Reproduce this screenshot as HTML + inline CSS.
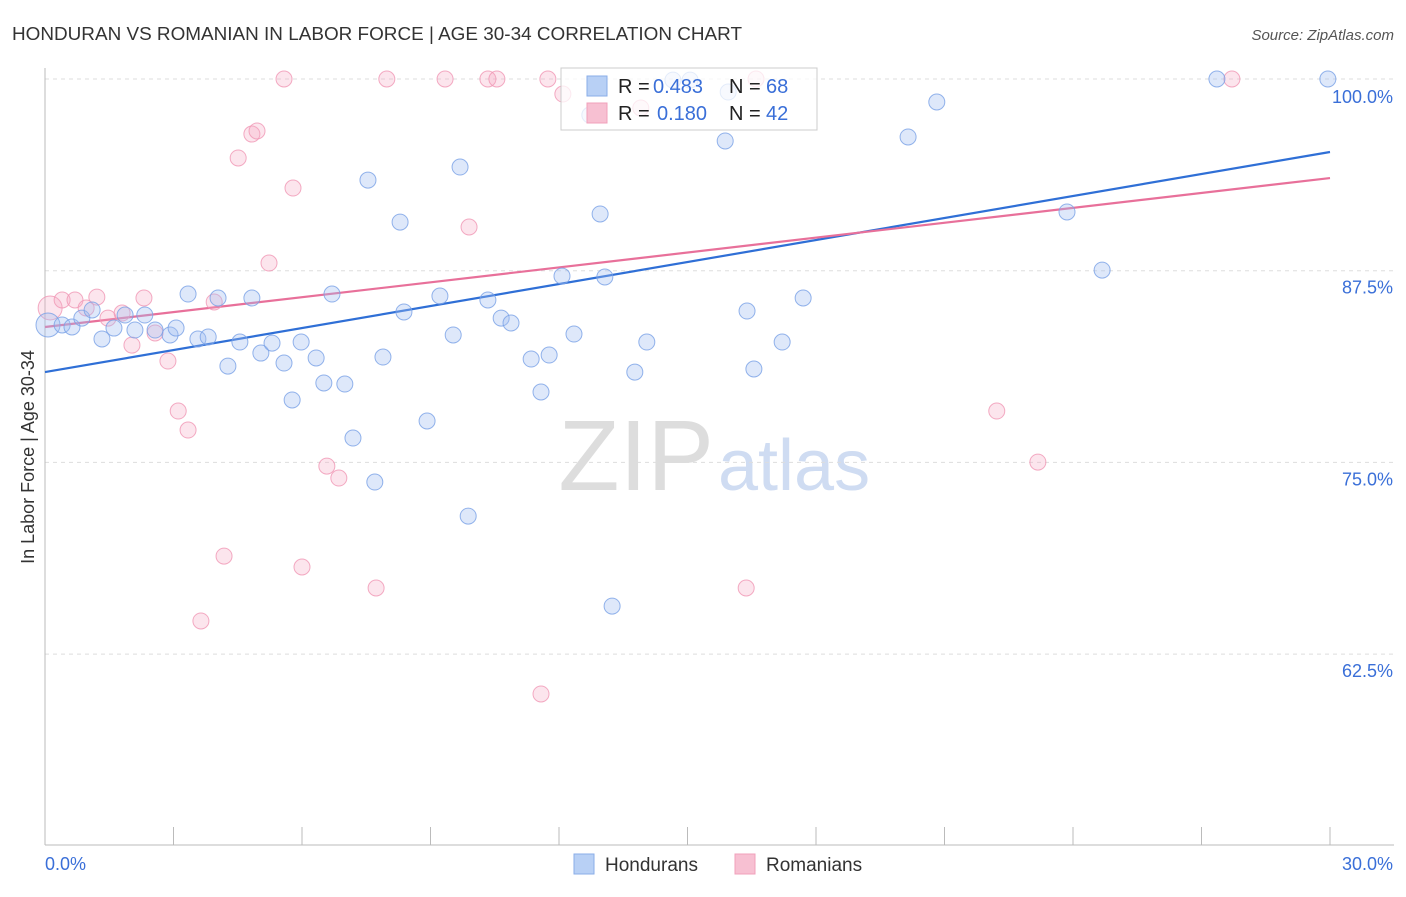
<!DOCTYPE html>
<html><head><meta charset="utf-8"><style>
body{margin:0;background:#fff;font-family:"Liberation Sans",sans-serif;}
svg text{font-family:"Liberation Sans",sans-serif;}
</style></head><body>
<svg id="chart" width="1406" height="892">
<text x="12" y="40" font-size="18" fill="#333" textLength="730" lengthAdjust="spacingAndGlyphs">HONDURAN VS ROMANIAN IN LABOR FORCE | AGE 30-34 CORRELATION CHART</text>
<text x="1394" y="40" font-size="15" fill="#555" text-anchor="end" font-style="italic">Source: ZipAtlas.com</text>
<text x="714" y="490" font-size="100" fill="#ddd" text-anchor="end" font-family="Liberation Serif">ZIP</text>
<text x="718" y="490" font-size="72" fill="#cfdcf2">atlas</text>
<text transform="translate(34,457) rotate(-90)" font-size="18" fill="#333" text-anchor="middle">In Labor Force | Age 30-34</text>
<g id="grid"></g><g id="axes"></g>
<g id="lines"></g><g id="pts"></g>
<g>
<rect x="561" y="68" width="256" height="62" fill="rgba(255,255,255,0.75)" stroke="#ccc"/>
<rect x="587" y="76" width="20" height="20" fill="#b8d0f5" stroke="#8aaee8"/>
<rect x="587" y="103" width="20" height="20" fill="#f7c0d2" stroke="#f0a0bb"/>
<text x="618" y="93" font-size="20" fill="#222">R = </text><text x="653" y="93" font-size="20" fill="#3a6fd8">0.483</text>
<text x="729" y="93" font-size="20" fill="#222">N = </text><text x="766" y="93" font-size="20" fill="#3a6fd8">68</text>
<text x="618" y="120" font-size="20" fill="#222">R = </text><text x="657" y="120" font-size="20" fill="#3a6fd8">0.180</text>
<text x="729" y="120" font-size="20" fill="#222">N = </text><text x="766" y="120" font-size="20" fill="#3a6fd8">42</text>
</g>
<g>
<rect x="574" y="854" width="20" height="20" fill="#b8d0f5" stroke="#8aaee8"/>
<text x="605" y="871" font-size="19" fill="#333">Hondurans</text>
<rect x="735" y="854" width="20" height="20" fill="#f7c0d2" stroke="#f0a0bb"/>
<text x="766" y="871" font-size="19" fill="#333">Romanians</text>
</g>
</svg>
<script>
const xTicks=[0,3,6,9,12,15,18,21,24,27,30];
const yTicks=[100,87.5,75,62.5];
const yTickLabels=["100.0%","87.5%","75.0%","62.5%"];
const blueX=[0.07,0.40,0.63,0.86,1.10,1.33,1.61,1.87,2.10,2.33,2.57,2.92,3.06,3.34,3.57,3.81,4.04,4.27,4.55,4.83,5.04,5.30,5.58,5.77,5.98,6.33,6.51,6.70,7.00,7.19,7.54,7.70,7.89,8.29,8.38,8.92,9.22,9.53,9.69,9.88,10.34,10.65,10.88,11.35,11.58,11.77,12.07,12.35,12.72,12.96,13.07,13.24,13.77,14.05,14.66,15.06,15.88,15.95,16.39,16.55,17.21,17.70,20.15,20.82,23.86,24.68,27.36,29.95];
const blueY=[83.96,83.96,83.83,84.41,84.94,83.05,83.76,84.61,83.63,84.61,83.63,83.31,83.76,85.98,83.05,83.18,85.72,81.28,82.85,85.72,82.13,82.78,81.48,79.07,82.85,81.81,80.18,85.98,80.11,76.59,93.41,73.72,81.87,90.67,84.81,77.70,85.85,83.31,94.26,71.50,85.59,84.41,84.09,81.74,79.59,82.00,87.15,83.37,97.65,91.20,87.09,65.63,80.89,82.85,99.93,99.93,95.96,99.15,84.87,81.09,82.85,85.72,96.22,98.50,91.33,87.54,100,100];
const pinkX=[0.12,0.40,0.70,0.96,1.21,1.47,1.80,2.03,2.31,2.57,2.87,3.11,3.34,3.64,3.95,4.18,4.51,4.83,4.95,5.23,5.58,5.79,6.00,6.58,6.86,7.73,7.98,9.34,9.90,10.34,10.55,11.58,11.74,12.09,13.91,16.37,16.60,22.22,23.18,27.71];
const pinkY=[85.07,85.59,85.59,85.07,85.78,84.41,84.74,82.65,85.72,83.44,81.61,78.35,77.11,64.66,85.46,68.89,94.85,96.41,96.61,88.00,100,92.89,68.18,74.76,73.98,66.81,100,100,90.35,100,100,59.90,100,99.02,98.11,66.81,100,78.35,75.02,100];
const blueTrend=[80.89,95.24];
const pinkTrend=[83.83,93.54];
const NS="http://www.w3.org/2000/svg";
const sx=v=>45+v/30*1285;
const sy=v=>79+(100-v)/12.5*191.7;
function mk(t,a,p){const e=document.createElementNS(NS,t);for(const k in a)e.setAttribute(k,a[k]);p.appendChild(e);return e;}
const grid=document.getElementById('grid'),axes=document.getElementById('axes'),lines=document.getElementById('lines'),pts=document.getElementById('pts');
yTicks.forEach((v,i)=>{
const l=mk('line',{x1:45,x2:1394,y1:sy(v),y2:sy(v),stroke:'#ddd','stroke-dasharray':'4,4'},grid);


const t=mk('text',{x:1393,y:sy(v)+(i==0?24:23),'font-size':18,fill:'#3a6fd8','text-anchor':'end'},axes);
t.textContent=yTickLabels[i];


});
mk('line',{x1:45,x2:45,y1:68,y2:845,stroke:'#bbb'},axes);
mk('line',{x1:45,x2:1394,y1:845,y2:845,stroke:'#bbb'},axes);
xTicks.forEach(v=>{const l=mk('line',{x1:sx(v),x2:sx(v),y1:827,y2:845,stroke:'#bbb'},axes);

});
let t0=mk('text',{x:45,y:870,'font-size':18,fill:'#3a6fd8'},axes);t0.textContent='0.0%';


let t1=mk('text',{x:1393,y:870,'font-size':18,fill:'#3a6fd8','text-anchor':'end'},axes);t1.textContent='30.0%';


function pointsOf(X,Y,fill,stroke,name){X.forEach((x,i)=>{
const c=mk('circle',{cx:sx(x),cy:sy(Y[i]),r:(i==0?12:8),fill:fill,stroke:stroke,'stroke-width':1},pts);

});}
pointsOf(pinkX,pinkY,'rgba(245,170,195,0.3)','rgba(240,150,180,0.8)','romanian-point');
pointsOf(blueX,blueY,'rgba(160,190,240,0.35)','rgba(120,160,230,0.8)','honduran-point');
const bl=mk('line',{x1:sx(0),y1:sy(blueTrend[0]),x2:sx(30),y2:sy(blueTrend[1]),stroke:'#2f6fd6','stroke-width':2.2},lines);


const pl=mk('line',{x1:sx(0),y1:sy(pinkTrend[0]),x2:sx(30),y2:sy(pinkTrend[1]),stroke:'#e8709a','stroke-width':2.2},lines);


</script>
</body></html>
